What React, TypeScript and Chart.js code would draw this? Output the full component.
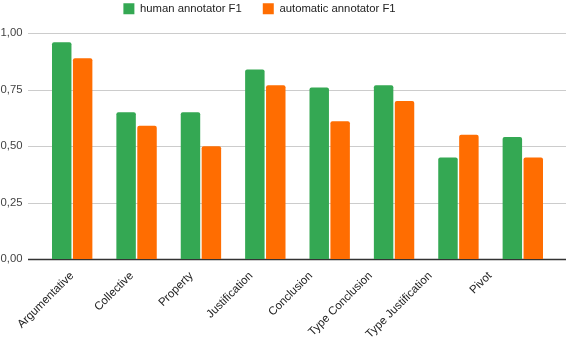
import React, { useEffect, useRef } from "react";
import { Chart, registerables } from "chart.js";

Chart.register(...registerables);

const categories = [
  "Argumentative",
  "Collective",
  "Property",
  "Justification",
  "Conclusion",
  "Type Conclusion",
  "Type Justification",
  "Pivot",
];
const humanF1 = [0.96, 0.65, 0.65, 0.84, 0.76, 0.77, 0.45, 0.54];
const automaticF1 = [0.89, 0.59, 0.5, 0.77, 0.61, 0.7, 0.55, 0.45];
const yTicks = [0, 0.25, 0.5, 0.75, 1];
const labelIndices = categories.map((_, i) => i);

const FONT = "'Liberation Sans', Arial, sans-serif";

const gridPlugin = {
  id: "extendedGrid",
  beforeLayout(chart: any) {
    const legend = chart.legend;
    if (legend && !legend._wrappedFit) {
      const orig = legend.fit.bind(legend);
      legend.fit = () => {
        orig();
        legend.height += 9;
      };
      legend._wrappedFit = true;
    }
  },
  afterLayout(chart: any) {
    if (chart.legend) {
      chart.legend.left -= 18;
      chart.legend.right -= 18;
    }
  },
  beforeDatasetsDraw(chart: any) {
    const y = chart.scales.y;
    const ctx = chart.ctx;
    ctx.save();
    for (const v of yTicks) {
      const py = Math.round(y.getPixelForValue(v)) + 0.5;
      ctx.beginPath();
      ctx.strokeStyle = v === 0 ? "#333333" : "#cccccc";
      ctx.lineWidth = v === 0 ? 1.5 : 1;
      ctx.moveTo(28, py);
      ctx.lineTo(566, py);
      ctx.stroke();
    }
    ctx.restore();
  },
};

export default function App() {
  const ref = useRef<HTMLCanvasElement | null>(null);
  useEffect(() => {
    document.body.style.margin = "0";
    const chart = new Chart(ref.current as HTMLCanvasElement, {
      type: "bar",
      data: {
        labels: categories,
        datasets: [
          {
            label: "human annotator F1",
            data: humanF1,
            backgroundColor: "#34A853",
            borderRadius: 2,
            borderSkipped: "bottom",
          },
          {
            label: "automatic annotator F1",
            data: automaticF1,
            backgroundColor: "#FF6D01",
            borderRadius: 2,
            borderSkipped: "bottom",
          },
        ],
      },
      options: {
        responsive: false,
        animation: false,
        datasets: {
          bar: { categoryPercentage: 0.65, barPercentage: 0.93 },
        },
        layout: { padding: { top: -18, right: 13, left: 0, bottom: 0 } },
        plugins: {
          legend: {
            position: "top",
            labels: {
              boxWidth: 11,
              boxHeight: 11,
              padding: 21,
              color: "#222222",
              font: { family: FONT, size: 11.3 },
            },
          },
          tooltip: { enabled: false },
        },
        scales: {
          x: {
            grid: { display: false, drawTicks: false },
            border: { display: false },
            ticks: { display: false },
            afterFit(scale: any) {
              scale.height = 0;
            },
          },
          xLabels: {
            type: "linear",
            position: "bottom",
            offset: false,
            bounds: "data",
            min: -0.536,
            max: 8.09,
            afterBuildTicks(scale: any) {
              scale.ticks = labelIndices.map((v) => ({ value: v }));
            },
            grid: { display: false, drawTicks: false },
            border: { display: false },
            ticks: {
              autoSkip: false,
              minRotation: 45,
              maxRotation: 45,
              padding: 10,
              color: "#222222",
              font: { family: FONT, size: 11.5 },
              callback: (v: any) => categories[Math.round(Number(v))] ?? "",
            },
            afterFit(scale: any) {
              scale.height = 79;
            },
          },
          y: {
            min: 0,
            max: 1,
            afterBuildTicks(scale: any) {
              scale.ticks = yTicks.map((v) => ({ value: v }));
            },
            grid: { display: false, drawTicks: false },
            border: { display: false },
            ticks: {
              padding: 17.5,
              color: "#444444",
              font: { family: FONT, size: 11.3 },
              callback: (v: any) => Number(v).toFixed(2).replace(".", ","),
            },
            afterFit(scale: any) {
              scale.width = 40;
            },
          },
        },
      },
      plugins: [gridPlugin],
    } as any);
    return () => chart.destroy();
  }, []);
  return (
    <div style={{ position: "absolute", left: 0, top: 0, width: 568, height: 338 }}>
      <canvas ref={ref} width={568} height={338} style={{ width: 568, height: 338 }} />
    </div>
  );
}
